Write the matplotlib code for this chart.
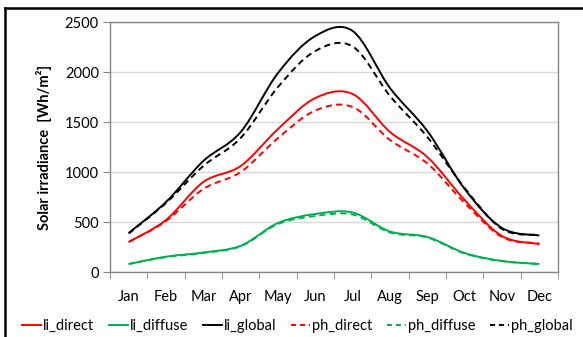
import numpy as np
import matplotlib
matplotlib.use('Agg')
import matplotlib.pyplot as plt
from matplotlib.path import Path
from matplotlib.patches import PathPatch
from matplotlib.lines import Line2D

plt.rcParams['font.family'] = ['Lato', 'DejaVu Sans']

months = ['Jan', 'Feb', 'Mar', 'Apr', 'May', 'Jun', 'Jul', 'Aug', 'Sep', 'Oct', 'Nov', 'Dec']

li_direct = [300, 520, 900, 1060, 1430, 1740, 1780, 1400, 1150, 720, 360, 280]
li_diffuse = [80, 153, 195, 262, 490, 580, 595, 405, 350, 190, 110, 80]
li_global = [390, 700, 1110, 1400, 1990, 2360, 2410, 1840, 1410, 830, 440, 365]
ph_direct = [300, 510, 830, 1000, 1340, 1615, 1650, 1320, 1085, 690, 350, 285]
ph_diffuse = [80, 150, 190, 258, 480, 560, 575, 395, 345, 185, 108, 80]
ph_global = [385, 690, 1060, 1340, 1850, 2210, 2255, 1760, 1350, 840, 430, 370]

series = [
    ('li_direct', li_direct, '#ff0000', '-'),
    ('li_diffuse', li_diffuse, '#00b050', '-'),
    ('li_global', li_global, '#000000', '-'),
    ('ph_direct', ph_direct, '#ff0000', '--'),
    ('ph_diffuse', ph_diffuse, '#00b050', '--'),
    ('ph_global', ph_global, '#000000', '--'),
]


def smooth_path(xs, ys):
    # Excel-like smoothed line: cubic bezier, Catmull-Rom control points
    pts = np.column_stack([xs, ys]).astype(float)
    n = len(pts)
    verts = [pts[0]]
    codes = [Path.MOVETO]
    for i in range(n - 1):
        p0 = pts[i - 1] if i > 0 else pts[i]
        p1 = pts[i]
        p2 = pts[i + 1]
        p3 = pts[i + 2] if i + 2 < n else pts[i + 1]
        c1 = p1 + (p2 - p0) / 6.0
        c2 = p2 - (p3 - p1) / 6.0
        verts += [c1, c2, p2]
        codes += [Path.CURVE4] * 3
    return Path(verts, codes)


fig = plt.figure(figsize=(5.83, 3.37), dpi=100)
ax = fig.add_axes([110 / 583, 1 - 272 / 337, 448 / 583, 250 / 337])

x = np.arange(len(months))
handles = []
for name, vals, col, ls in series:
    dashes = (3.2, 2.2) if ls == '--' else None
    patch = PathPatch(smooth_path(x, vals), fill=False, edgecolor=col,
                      lw=1.4, zorder=3, capstyle='butt')
    if dashes:
        patch.set_linestyle((0, dashes))
    ax.add_patch(patch)
    h = Line2D([], [], color=col, lw=1.4, label=name)
    if dashes:
        h.set_dashes((2.6, 2.0))
    handles.append(h)

ax.set_xlim(-0.5, 11.5)
ax.set_ylim(0, 2500)
ax.set_yticks(np.arange(0, 2501, 500))
ax.set_xticks(x)
ax.set_xticklabels(months)
ax.set_xticks(np.arange(-0.5, 12, 1), minor=True)
ax.tick_params(axis='x', which='major', length=0, pad=13, labelsize=10.5)
ax.tick_params(axis='x', which='minor', length=5, color='#868686', direction='out')
ax.tick_params(axis='y', length=5, color='#868686', labelsize=10.5, pad=3)
ax.grid(axis='y', color='#d9d9d9', lw=1.0)
ax.set_axisbelow(True)
for s in ax.spines.values():
    s.set_color('#868686')
    s.set_linewidth(1.0)

ax.set_ylabel('Solar irradiance  [Wh/m²]', fontsize=10.5, fontweight='bold')
ax.yaxis.set_label_coords(-0.13, 0.5)

fig.legend(handles=handles, loc='center', ncol=6, frameon=False,
           bbox_to_anchor=(0.51, 1 - 326 / 337), fontsize=10.5,
           handlelength=1.3, handletextpad=0.15, columnspacing=1.0)

# outer chart frame (left and top edges)
fig.add_artist(Line2D([5 / 583, 5 / 583], [0, 1 - 8 / 337], color='black', lw=1.8))
fig.add_artist(Line2D([5 / 583, 1], [1 - 8 / 337, 1 - 8 / 337], color='black', lw=1.8))

fig.savefig('out.png', dpi=100)
